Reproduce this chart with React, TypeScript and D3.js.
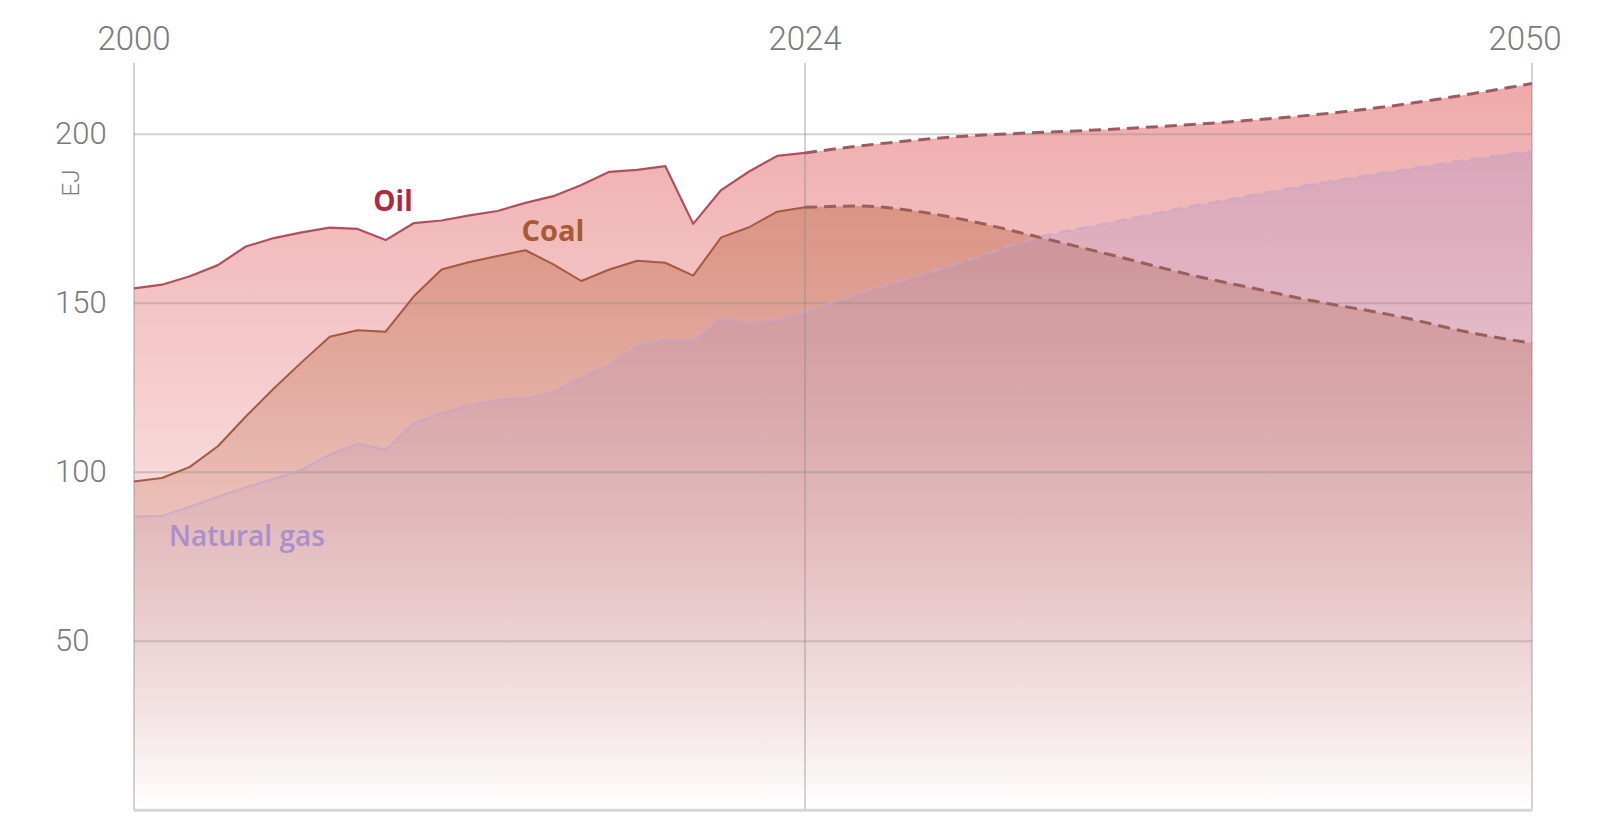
import React from "react";
import * as d3 from "d3";

// ---- Data (EJ) ----
const histYears = [2000, 2001, 2002, 2003, 2004, 2005, 2006, 2007, 2008, 2009, 2010, 2011, 2012, 2013, 2014, 2015, 2016, 2017, 2018, 2019, 2020, 2021, 2022, 2023, 2024];
const oilHist = [154.4, 155.5, 158.0, 161.3, 166.8, 169.3, 171.0, 172.4, 172.0, 168.7, 173.7, 174.5, 176.0, 177.3, 179.7, 181.7, 185.0, 188.9, 189.5, 190.6, 173.5, 183.5, 189.0, 193.6, 194.5];
const coalHist = [97.3, 98.3, 101.6, 107.7, 116.5, 124.8, 132.6, 140.1, 142.0, 141.6, 152.0, 160.0, 162.2, 164.0, 165.7, 161.5, 156.6, 160.0, 162.6, 162.0, 158.2, 169.5, 172.5, 177.1, 178.4];
const gasHist = [86.9, 87.1, 89.8, 92.8, 95.6, 98.0, 100.8, 105.2, 108.5, 106.7, 114.5, 117.5, 119.8, 121.5, 121.8, 123.8, 128.0, 131.8, 137.3, 139.2, 138.8, 145.7, 144.0, 145.0, 147.5];

const projYears = [2024, 2026, 2028, 2030, 2032, 2035, 2038, 2040, 2042, 2045, 2048, 2050];
const oilProj = [194.5, 196.6, 198.3, 199.6, 200.4, 201.5, 203.0, 204.2, 205.6, 208.4, 212.2, 215.0];
const coalProj = [178.4, 178.8, 177.2, 174.2, 170.3, 164.2, 158.0, 154.5, 151.0, 146.5, 141.0, 138.2];
const gasProj = [147.5, 153.0, 158.0, 163.2, 168.8, 174.0, 179.0, 182.0, 185.0, 189.0, 192.8, 195.0];

const xTicks = [2000, 2024, 2050];
const yTicks = [50, 100, 150, 200];
const unitLabel = "EJ";

type Pt = [number, number];

export default function App() {
  const W = 1600, H = 834;
  const x = d3.scaleLinear().domain([2000, 2050]).range([134, 1532]);
  const y = d3.scaleLinear().domain([0, 200]).range([810.3, 134.3]);

  const lineLin = d3.line<Pt>().x(d => x(d[0])).y(d => y(d[1])).curve(d3.curveLinear);
  const lineMono = d3.line<Pt>().x(d => x(d[0])).y(d => y(d[1])).curve(d3.curveMonotoneX);

  const zip = (ys: number[], vs: number[]): Pt[] => ys.map((yr, i) => [yr, vs[i]]);

  const series = [
    { key: "oil", hist: zip(histYears, oilHist), proj: zip(projYears, oilProj), color: "#efaaab", topOp: 1, line: "#b0505f", dash: "#9e5a63", lw: 2.2, dw: 3, lop: 1 },
    { key: "coal", hist: zip(histYears, coalHist), proj: zip(projYears, coalProj), color: "#c97b60", topOp: 0.7, line: "#a35a3e", dash: "#9c5f58", lw: 2, dw: 3, lop: 1 },
    { key: "gas", hist: zip(histYears, gasHist), proj: zip(projYears, gasProj), color: "#b291c3", topOp: 0.4, line: "#c4a4cc", dash: "#c6a7cc", lw: 2, dw: 2.5, lop: 0.7 },
  ];

  const areaPath = (s: typeof series[number]) => {
    const h = lineLin(s.hist) || "";
    const p = (lineMono(s.proj) || "").replace(/^M/, "L");
    return `${h}${p}L${x(2050)},${y(0)}L${x(2000)},${y(0)}Z`;
  };

  const gridColor = "rgba(140,140,140,0.38)";
  const fontFam = "Roboto, 'Noto Sans', sans-serif";
  const labelFam = "'Open Sans', Roboto, sans-serif";

  return (
    <svg width={W} height={H} style={{ position: "absolute", left: 0, top: 0, background: "#fff" }}>
      <defs>
        {series.map(s => (
          <linearGradient key={s.key} id={`g-${s.key}`} gradientUnits="userSpaceOnUse" x1={0} x2={0} y1={y(215)} y2={y(0)}>
            <stop offset="0" stopColor={s.color} stopOpacity={s.topOp} />
            <stop offset="1" stopColor={s.color} stopOpacity={0} />
          </linearGradient>
        ))}
      </defs>

      {/* areas */}
      {series.map(s => (
        <path key={`a-${s.key}`} d={areaPath(s)} fill={`url(#g-${s.key})`} />
      ))}

      {/* horizontal gridlines */}
      {yTicks.map(t => (
        <line key={`gy-${t}`} x1={x(2000)} x2={x(2050)} y1={y(t)} y2={y(t)} stroke={gridColor} strokeWidth={2} />
      ))}
      {/* vertical lines */}
      {xTicks.map(t => (
        <line key={`gx-${t}`} x1={x(t)} x2={x(t)} y1={63} y2={y(0)} stroke="rgba(140,140,140,0.5)" strokeWidth={1.5} />
      ))}
      {/* bottom axis */}
      <line x1={x(2000)} x2={x(2050)} y1={y(0)} y2={y(0)} stroke="#d6d6d6" strokeWidth={3} />

      {/* lines */}
      {series.map(s => (
        <g key={`l-${s.key}`}>
          <path d={lineLin(s.hist) || ""} fill="none" stroke={s.line} strokeWidth={s.lw} strokeOpacity={s.lop} strokeLinejoin="round" />
          <path d={lineMono(s.proj) || ""} fill="none" stroke={s.dash} strokeWidth={s.dw} strokeOpacity={s.lop} strokeDasharray="12 7" />
        </g>
      ))}

      {/* x labels */}
      {xTicks.map((t, i) => (
        <text key={`xl-${t}`} x={x(t) - (i === xTicks.length - 1 ? 7 : 0)} y={50} textAnchor="middle" fontFamily={fontFam} fontWeight={300} fontSize={33} fill="#7a7a7a">{t}</text>
      ))}
      {/* y labels */}
      {yTicks.map(t => (
        <text key={`yl-${t}`} x={55} y={y(t) + 10} textAnchor="start" fontFamily={fontFam} fontWeight={300} fontSize={31} fill="#7a7a7a">{t}</text>
      ))}
      <text transform="translate(79,183) rotate(-90)" textAnchor="middle" fontFamily={fontFam} fontWeight={300} fontSize={24} fill="#7a7a7a">{unitLabel}</text>

      {/* series labels */}
      <text x={393} y={211} textAnchor="middle" fontFamily={labelFam} fontWeight={700} fontSize={28} fill="#b3283b">Oil</text>
      <text x={553} y={241} textAnchor="middle" fontFamily={labelFam} fontWeight={700} fontSize={29} fill="#a75a36">Coal</text>
      <text x={169} y={546} textAnchor="start" fontFamily={labelFam} fontWeight={600} fontSize={28} fill="#a98fcb">Natural gas</text>
    </svg>
  );
}
